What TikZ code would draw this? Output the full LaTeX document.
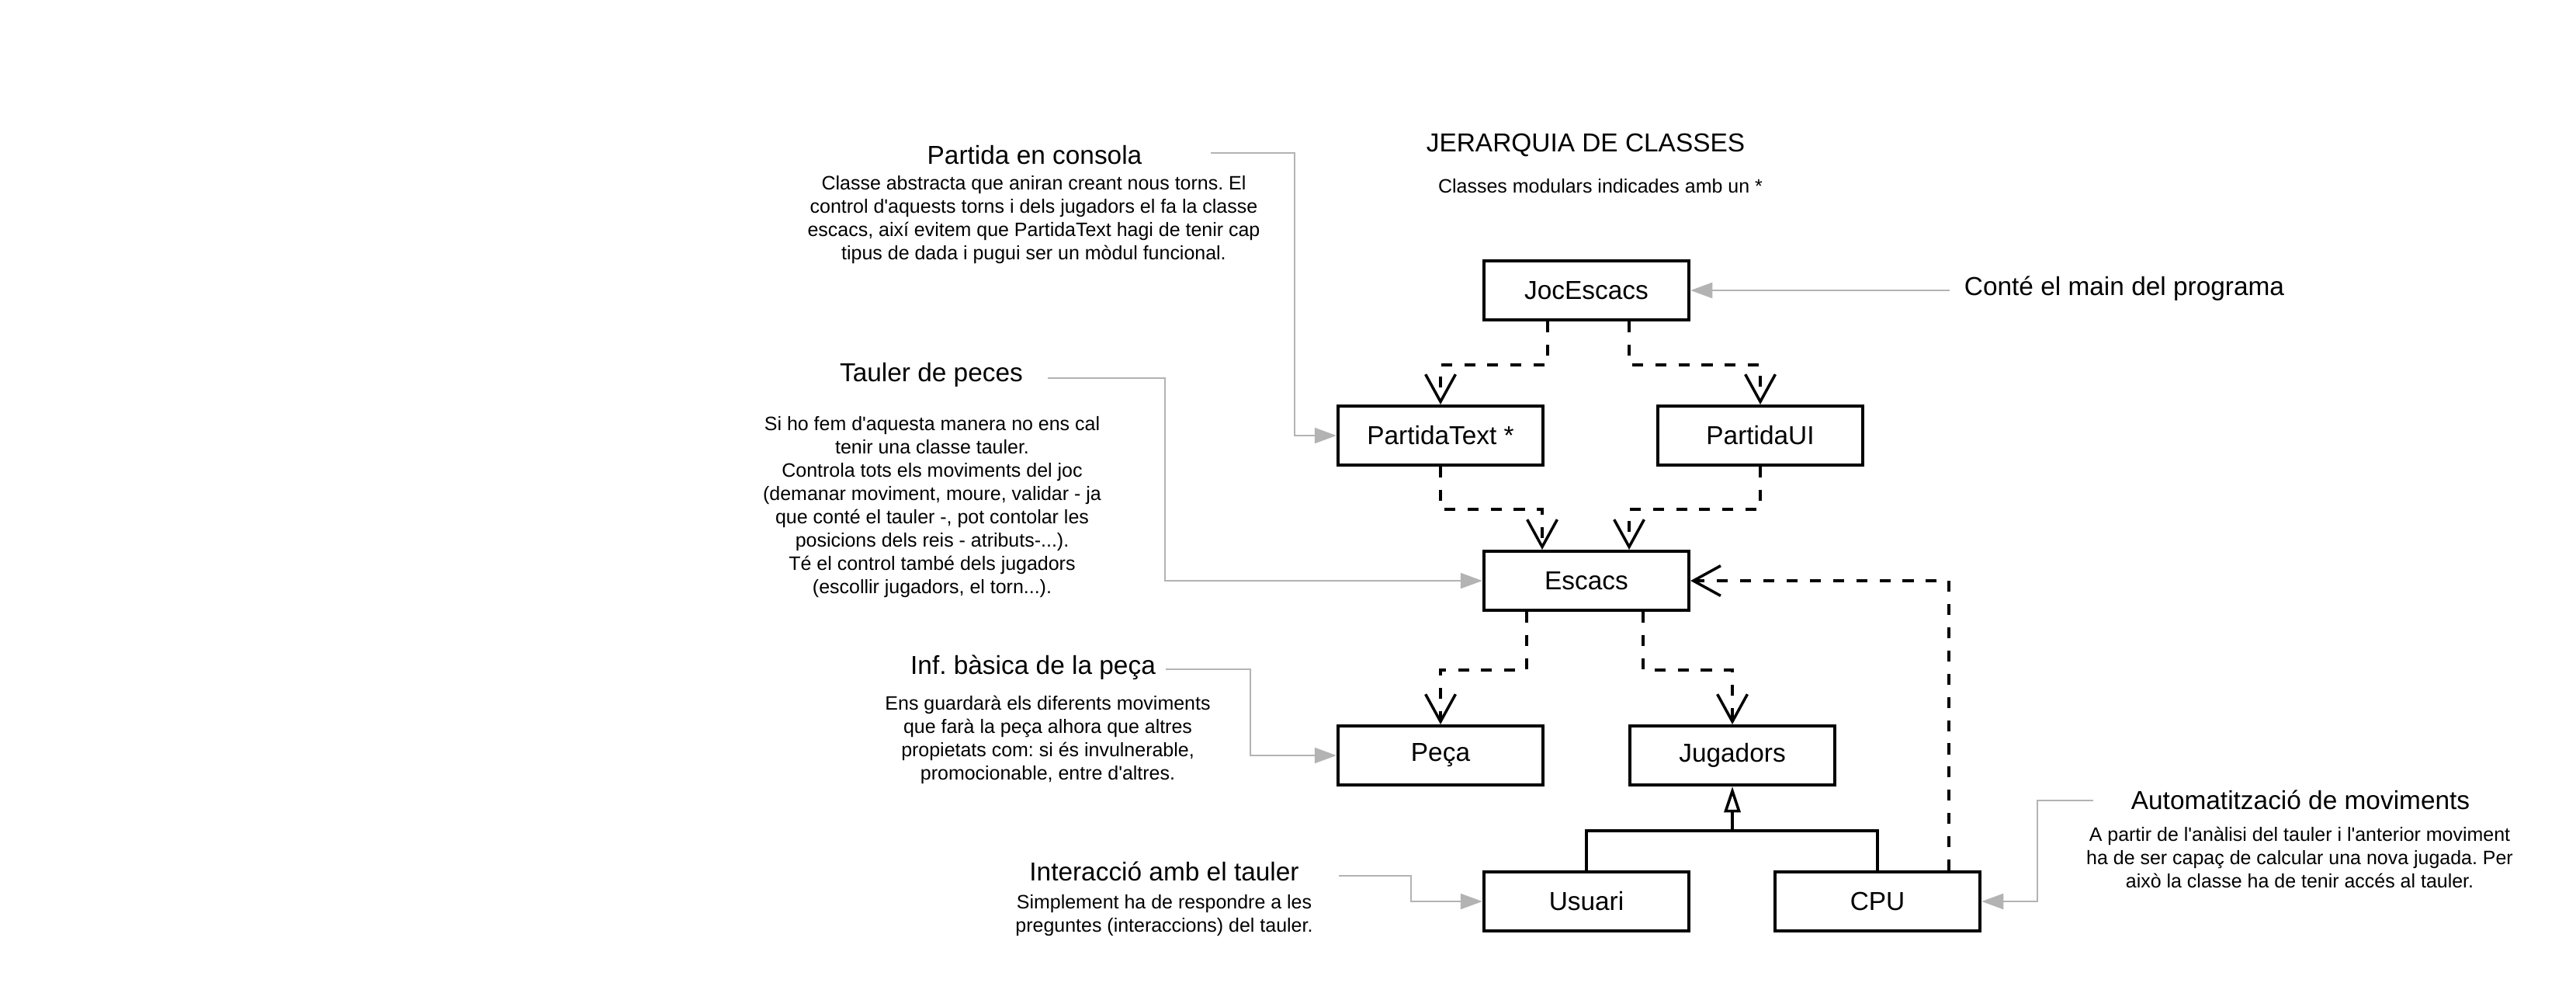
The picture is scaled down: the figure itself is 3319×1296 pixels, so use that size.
\documentclass[tikz,border=0pt]{standalone}
\usepackage{fontspec}
\setmainfont{Liberation Sans}[Ligatures=TeXOff]
\usetikzlibrary{arrows.meta,calc,positioning}
\frenchspacing

\begin{document}
\begin{tikzpicture}[x=0.01cm, y=-0.01cm,
		cls/.style={draw, line width=1.15pt, minimum width=2.64cm, minimum height=0.76cm,
			inner sep=0pt, font=\fontsize{9.5}{11}\selectfont},
		dep/.style={line width=1pt, dash pattern=on 4pt off 4.5pt,
			-{Straight Barb[length=10pt,width=11pt]}},
		gen/.style={line width=1pt},
		genarrow/.style={gen, -{Triangle[open,length=9.5pt,width=6pt]}},
		note/.style={mgray, line width=0.6pt, -{Triangle[length=8pt,width=5.7pt]}},
		head/.style={font=\fontsize{9.5}{11}\selectfont, inner sep=0pt},
		desc/.style={font=\fontsize{7.1}{8.54}\selectfont, align=center, inner sep=0pt}
		]
		\definecolor{mgray}{RGB}{179,179,179}
		\useasboundingbox (0,0) rectangle (3319,1296);

		% Title
		\node[head] (title) at (2043,187) {JERARQUIA DE CLASSES};
		\node[desc] (subtitle) at (2062,240) {Classes modulars indicades amb un *};

		% Classes
		\node[cls] (joc) at (2044,374) {JocEscacs};
		\node[cls] (ptext) at (1856,561) {PartidaText *};
		\node[cls] (pui) at (2268,561) {PartidaUI};
		\node[cls] (escacs) at (2044,748) {Escacs};
		\node[cls] (peca) at (1856,973) {Peça};
		\node[cls] (jug) at (2232,973) {Jugadors};
		\node[cls] (usu) at (2044,1161) {Usuari};
		\node[cls] (cpu) at (2419,1161) {CPU};

		% Notes
		\node[head] (consola) at (1333,200) {Partida en consola};
		\node[desc] (consola-d) at (1332,283) {Classe abstracta que aniran creant nous torns. El\\
			control d'aquests torns i dels jugadors el fa la classe\\
			escacs, així evitem que PartidaText hagi de tenir cap\\
			tipus de dada i pugui ser un mòdul funcional.};
		\node[head] (tauler) at (1200,483) {Tauler de peces};
		\node[desc] (tauler-d) at (1201,653) {Si ho fem d'aquesta manera no ens cal\\
			tenir una classe tauler.\\
			Controla tots els moviments del joc\\
			(demanar moviment, moure, validar - ja\\
			que conté el tauler -, pot contolar les\\
			posicions dels reis - atributs-...).\\
			Té el control també dels jugadors\\
			(escollir jugadors, el torn...).};
		\node[head] (inf) at (1331,860) {Inf. bàsica de la peça};
		\node[desc] (inf-d) at (1350,953) {Ens guardarà els diferents moviments\\
			que farà la peça alhora que altres\\
			propietats com: si és invulnerable,\\
			promocionable, entre d'altres.};
		\node[head] (inter) at (1500,1122) {Interacció amb el tauler};
		\node[desc] (inter-d) at (1500,1179) {Simplement ha de respondre a les\\
			preguntes (interaccions) del tauler.};
		\node[head] (auto) at (2964,1030) {Automatització de moviments};
		\node[desc] (auto-d) at (2963,1104) {A partir de l'anàlisi del tauler i l'anterior moviment\\
			ha de ser capaç de calcular una nova jugada. Per\\
			això la classe ha de tenir accés al tauler.};
		\node[head] (main) at (2737,372) {Conté el main del programa};

		% Dependencies
		\draw[dep] ($(joc.south)+(-50,0)$) -- ++(0,56) -| (ptext.north);
		\draw[dep] ($(joc.south)+(55,0)$) -- ++(0,56) -| (pui.north);
		\draw[dep] (ptext.south) -- ++(0,55) -| ($(escacs.north)+(-57,0)$);
		\draw[dep] (pui.south) -- ++(0,55) -| ($(escacs.north)+(55,0)$);
		\draw[dep] ($(escacs.south)+(-77,0)$) -- ++(0,75) -| (peca.north);
		\draw[dep] ($(escacs.south)+(73,0)$) -- ++(0,75) -| (jug.north);
		\draw[dep] ($(cpu.north)+(92,0)$) |- (escacs.east);

		% Generalization
		\coordinate (gen-a) at ($(jug.south)+(0,57)$);
		\draw[gen] (usu.north) |- (gen-a) -| (cpu.north);
		\draw[genarrow] (gen-a) -- (jug.south);

		% Note edges
		\coordinate (consola-a) at (1560,197);
		\coordinate (consola-b) at (1668,197);
		\draw[note] (consola-a) -- (consola-b) |- (ptext.west);
		\coordinate (tauler-a) at (1350,487);
		\coordinate (tauler-b) at (1501,487);
		\draw[note] (tauler-a) -- (tauler-b) |- (escacs.west);
		\coordinate (inf-a) at (1502,862);
		\coordinate (inf-b) at (1611,862);
		\draw[note] (inf-a) -- (inf-b) |- (peca.west);
		\coordinate (inter-a) at (1725,1128);
		\coordinate (inter-b) at (1818,1128);
		\draw[note] (inter-a) -- (inter-b) |- (usu.west);
		\coordinate (auto-a) at (2697,1031);
		\coordinate (auto-b) at (2625,1031);
		\draw[note] (auto-a) -- (auto-b) |- (cpu.east);
		\coordinate (main-a) at (2512,374);
		\draw[note] (main-a) -- (joc.east);
	\end{tikzpicture}
\end{document}
